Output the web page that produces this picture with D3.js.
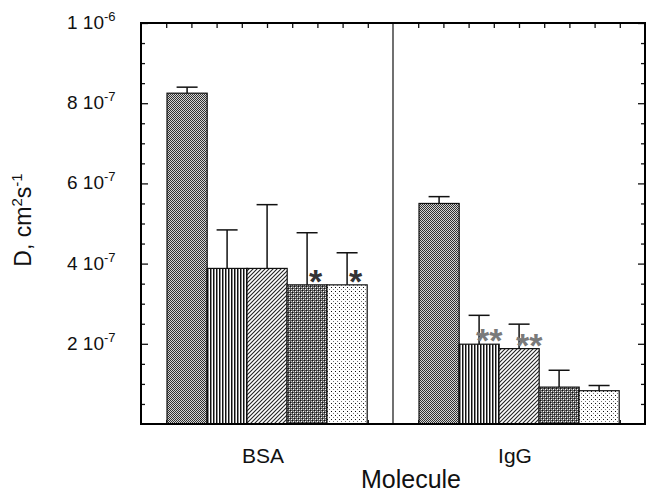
<!DOCTYPE html>
<html>
<head>
<meta charset="utf-8">
<script src="https://cdn.jsdelivr.net/npm/d3@7"></script>
<style>
  body { margin: 0; background: #fff; }
  text { font-family: "Liberation Sans", Arial, Helvetica, sans-serif; fill: #111; }
  .tick line { stroke: #111; stroke-width: 1.3; }
  .domain { display: none; }
</style>
</head>
<body>
<div id="chart"></div>
<script>
// --- data ---
const molecules = ["BSA", "IgG"];
const series = ["s1", "s2", "s3", "s4", "s5"];
const patterns = ["checker", "vstripe", "diag", "grid", "dots"];
const bsaValues = [8.25e-7, 3.88e-7, 3.88e-7, 3.47e-7, 3.47e-7];
const bsaErrors = [0.15e-7, 0.96e-7, 1.59e-7, 1.30e-7, 0.80e-7];
const bsaMarks = ["", "", "", "*", "*"];
const iggValues = [5.50e-7, 1.99e-7, 1.88e-7, 0.92e-7, 0.83e-7];
const iggErrors = [0.17e-7, 0.72e-7, 0.61e-7, 0.42e-7, 0.13e-7];
const iggMarks = ["", "**", "**", "", ""];
const yTickValues = [2e-7, 4e-7, 6e-7, 8e-7, 1e-6];
const yTickMantissa = ["2", "4", "6", "8", "1"];
const yTickExponent = ["-7", "-7", "-7", "-7", "-6"];

const rows = [];
[[bsaValues, bsaErrors, bsaMarks], [iggValues, iggErrors, iggMarks]].forEach((g, gi) => {
    series.forEach((s, si) => {
        rows.push({ molecule: molecules[gi], series: s, pattern: patterns[si],
                    value: g[0][si], err: g[1][si], mark: g[2][si] });
    });
});

// --- dimensions ---
const W = 650, H = 494;
const margin = { top: 23, right: 5, bottom: 70, left: 141 };
const width = W - margin.left - margin.right;
const height = H - margin.top - margin.bottom;

const svg = d3.select("#chart").append("svg")
    .attr("width", W).attr("height", H);

// --- fill patterns ---
const defs = svg.append("defs");
function pat(id, w, h) {
    return defs.append("pattern").attr("id", id)
        .attr("patternUnits", "userSpaceOnUse")
        .attr("width", w).attr("height", h);
}
function dot(p, x, y, c) {
    p.append("rect").attr("x", x).attr("y", y).attr("width", 1).attr("height", 1).attr("fill", c);
}
let p = pat("checker", 2, 2);
p.append("rect").attr("width", 2).attr("height", 2).attr("fill", "#d4d4d4");
dot(p, 0, 0, "#303030");
dot(p, 1, 1, "#303030");

p = pat("vstripe", 3, 3);
p.append("rect").attr("width", 3).attr("height", 3).attr("fill", "#fff");
p.append("rect").attr("width", 1).attr("height", 3).attr("fill", "#111");
p.append("rect").attr("x", 1).attr("width", 1).attr("height", 3).attr("fill", "#8a8a8a");

p = pat("diag", 4, 4);
p.append("rect").attr("width", 4).attr("height", 4).attr("fill", "#fff");
p.append("path").attr("d", "M-1,1 L1,-1 M0,4 L4,0 M3,5 L5,3")
    .attr("stroke", "#222").attr("stroke-width", 1.1);

p = pat("grid", 4, 4);
p.append("rect").attr("width", 4).attr("height", 4).attr("fill", "#5a5a5a");
dot(p, 0, 0, "#fff");
dot(p, 2, 2, "#fff");
dot(p, 2, 0, "#bdbdbd");
dot(p, 0, 2, "#bdbdbd");
dot(p, 1, 1, "#111");
dot(p, 3, 3, "#111");

p = pat("dots", 4, 4);
p.append("rect").attr("width", 4).attr("height", 4).attr("fill", "#fff");
dot(p, 0, 0, "#111");
dot(p, 2, 2, "#777");

const g = svg.append("g").attr("transform", `translate(${margin.left},${margin.top})`);

// --- scales ---
const x0 = d3.scaleBand().domain(molecules).range([0, width]);
const x1 = d3.scaleBand().domain(series).range([0, x0.bandwidth()]).paddingOuter(0.635);
const y = d3.scaleLinear().domain([0, 1e-6]).range([height, 0]);
const xMinor = d3.scaleLinear().domain([0, 20]).range([0, width]);

// --- axes ticks (inside the frame) ---
const minorY = d3.range(1, 20).map(i => i * 5e-8).filter(v => !yTickValues.some(t => Math.abs(t - v) < 1e-12));
const minorX = d3.range(1, 20).filter(i => i !== 10);

g.append("g").call(d3.axisLeft(y).tickValues(minorY).tickSize(-4).tickFormat(""));
g.append("g").call(d3.axisLeft(y).tickValues(yTickValues).tickSize(-7).tickFormat(""));
g.append("g").attr("transform", `translate(${width},0)`)
    .call(d3.axisRight(y).tickValues(minorY).tickSize(-4).tickFormat(""));
g.append("g").attr("transform", `translate(${width},0)`)
    .call(d3.axisRight(y).tickValues(yTickValues).tickSize(-7).tickFormat(""));
g.append("g").call(d3.axisTop(xMinor).tickValues(minorX).tickSize(-5).tickFormat(""));
g.append("g").attr("transform", `translate(0,${height})`)
    .call(d3.axisBottom(xMinor).tickValues(minorX).tickSize(-4).tickFormat(""));

// --- bars ---
const barG = g.selectAll("g.bar").data(rows).join("g").attr("class", "bar")
    .attr("transform", d => `translate(${Math.round(x0(d.molecule) + x1(d.series))},0)`);

barG.append("rect")
    .attr("x", 0).attr("y", d => y(d.value))
    .attr("width", x1.bandwidth()).attr("height", d => height - y(d.value))
    .attr("fill", d => `url(#${d.pattern})`)
    .attr("stroke", "#111").attr("stroke-width", 1.2);

// error bars (upper only)
const cx = x1.bandwidth() / 2;
barG.append("line")
    .attr("x1", cx).attr("x2", cx)
    .attr("y1", d => y(d.value)).attr("y2", d => y(d.value + d.err))
    .attr("stroke", "#111").attr("stroke-width", 1.5);
barG.append("line")
    .attr("x1", cx - 10.5).attr("x2", cx + 10.5)
    .attr("y1", d => y(d.value + d.err)).attr("y2", d => y(d.value + d.err))
    .attr("stroke", "#111").attr("stroke-width", 1.5);

// significance marks
barG.filter(d => d.mark).append("text")
    .attr("x", d => cx + (d.mark.length > 1 ? -3 : 2))
    .attr("y", d => y(d.value) + 8)
    .style("font-size", "34px").style("font-weight", "bold")
    .style("fill", d => d.molecule === "BSA" ? "#333" : "#7a7a7a")
    .text(d => d.mark);

// divider between molecules
g.append("line")
    .attr("x1", x0("IgG")).attr("x2", x0("IgG"))
    .attr("y1", 0).attr("y2", height)
    .attr("stroke", "#111").attr("stroke-width", 1.2);

// frame
g.append("rect").attr("width", width).attr("height", height)
    .attr("fill", "none").attr("stroke", "#000").attr("stroke-width", 2);

// --- y tick labels "m 10^e" ---
const yLab = svg.append("g").selectAll("text").data(yTickValues).join("text")
    .attr("x", 67).attr("y", d => margin.top + y(d) + 6)
    .style("font-size", "19px");
yLab.append("tspan").text((d, i) => yTickMantissa[i] + " 10");
yLab.append("tspan").attr("dy", -8).style("font-size", "13px").text((d, i) => yTickExponent[i]);

// --- category labels ---
svg.append("g").selectAll("text").data(molecules).join("text")
    .attr("x", d => margin.left + x0(d) + x0.bandwidth() / 2 - 4)
    .attr("y", 463)
    .attr("text-anchor", "middle")
    .style("font-size", "21px")
    .text(d => d);

// --- axis titles ---
svg.append("text")
    .attr("x", margin.left + width / 2 + 18).attr("y", 488)
    .attr("text-anchor", "middle")
    .style("font-size", "25px")
    .text("Molecule");

const yTitle = svg.append("text")
    .attr("transform", `translate(31,${margin.top + 197}) rotate(-90)`)
    .attr("text-anchor", "middle")
    .style("font-size", "23px");
yTitle.append("tspan").text("D, cm");
yTitle.append("tspan").attr("dy", -9).style("font-size", "15px").text("2");
yTitle.append("tspan").attr("dy", 9).text("s");
yTitle.append("tspan").attr("dy", -9).style("font-size", "15px").text("-1");
</script>
</body>
</html>
